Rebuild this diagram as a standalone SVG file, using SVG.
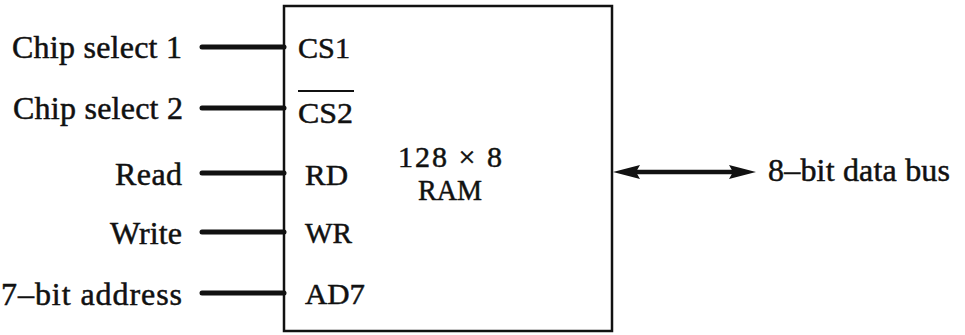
<svg xmlns="http://www.w3.org/2000/svg" width="965" height="335" viewBox="0 0 965 335">
<style>
text{font-family:"Liberation Serif","Times New Roman",serif;fill:#111;stroke:#111;stroke-width:0.5}
.lbl{font-size:32px}
.pin{font-size:30px}
.wire{stroke:#111;stroke-width:5;stroke-linecap:round;fill:none}
.box{fill:#fff;stroke:#111;stroke-width:2.5}
</style>
<g id="ram">
<rect class="box" x="284" y="6" width="328" height="325"/>
<text class="pin" x="298" y="58" textLength="52" lengthAdjust="spacingAndGlyphs">CS1</text>
<text class="pin" x="298" y="123" textLength="55" lengthAdjust="spacingAndGlyphs">CS2</text>
<line x1="298" y1="91" x2="354" y2="91" stroke="#111" stroke-width="2"/>
<text class="pin" x="305" y="185" textLength="43" lengthAdjust="spacingAndGlyphs">RD</text>
<text class="pin" x="305" y="243" textLength="47" lengthAdjust="spacingAndGlyphs">WR</text>
<text class="pin" x="305" y="304" textLength="60" lengthAdjust="spacingAndGlyphs">AD7</text>
<text class="pin" x="398" y="167" textLength="104" lengthAdjust="spacing">128 × 8</text>
<text class="pin" x="418" y="200" textLength="64" lengthAdjust="spacingAndGlyphs">RAM</text>
</g>
<g id="labels">
<text id="cs1" class="lbl" x="182" y="58" text-anchor="end" textLength="170" lengthAdjust="spacing">Chip select 1</text>
<text id="cs2" class="lbl" x="183" y="119" text-anchor="end" textLength="170" lengthAdjust="spacing">Chip select 2</text>
<text id="rd" class="lbl" x="182" y="185" text-anchor="end" textLength="67" lengthAdjust="spacing">Read</text>
<text id="wr" class="lbl" x="182" y="244" text-anchor="end" textLength="72" lengthAdjust="spacing">Write</text>
<text id="addr" class="lbl" x="182" y="305" text-anchor="end" textLength="181" lengthAdjust="spacing">7–bit address</text>
<text id="bus" class="lbl" x="768" y="181" textLength="182" lengthAdjust="spacing">8–bit data bus</text>
</g>
<g id="connectors">
<line class="wire" x1="202" y1="47" x2="284" y2="47"/>
<line class="wire" x1="202" y1="108" x2="284" y2="108"/>
<line class="wire" x1="202" y1="173" x2="284" y2="173"/>
<line class="wire" x1="202" y1="232" x2="284" y2="232"/>
<line class="wire" x1="202" y1="293" x2="284" y2="293"/>
<line stroke="#111" stroke-width="4.5" x1="632" y1="172" x2="735" y2="172"/>
<polygon points="613,172 640,165 636,172 640,179" fill="#111"/>
<polygon points="756,172 729,165 733,172 729,179" fill="#111"/>
</g>
</svg>
